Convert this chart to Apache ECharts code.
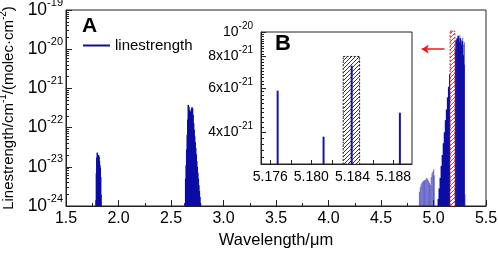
<!DOCTYPE html>
<html>
<head>
<meta charset="utf-8">
<script src="https://cdn.jsdelivr.net/npm/echarts@6/dist/echarts.min.js"></script>
<style>
html, body { margin: 0; padding: 0; background: #fff; }
#chart { width: 498px; height: 255px; }
</style>
</head>
<body>
<div id="chart"></div>
<script>
// line positions (um) and strengths (cm-1/(molec cm-2))
const band18Wl = [1.787, 1.790, 1.794, 1.798, 1.802, 1.806, 1.810, 1.814, 1.818, 1.822, 1.826, 1.830, 1.833];
const band18S = [1.4e-24, 6.9e-24, 1.7e-23, 2.3e-23, 1.8e-23, 1.5e-23, 2.0e-23, 1.8e-23, 1.4e-23, 1.1e-23, 9.3e-24, 5.5e-24, 1.9e-24];

const band27Wl = [2.633, 2.640, 2.645, 2.650, 2.655, 2.660, 2.665, 2.670, 2.675, 2.680, 2.685, 2.690, 2.695, 2.700, 2.705,
  2.710, 2.715, 2.720, 2.725, 2.730, 2.735, 2.740, 2.745, 2.750, 2.755, 2.760, 2.765, 2.770, 2.775, 2.780];
const band27S = [1.2e-24, 5e-24, 1.1e-23, 2.8e-23, 6.5e-23, 1.6e-22, 3.8e-22, 3.4e-22, 2.8e-22, 2.5e-22, 2.3e-22, 2.6e-22, 3.0e-22, 3.3e-22, 3.1e-22,
  2.1e-22, 1.3e-22, 8.8e-23, 6.0e-23, 4.3e-23, 3.0e-23, 2.1e-23, 1.4e-23, 1.0e-23, 7.1e-24, 5.0e-24, 3.4e-24, 2.4e-24, 1.7e-24, 1.2e-24];

const band49Wl = [4.866, 4.874, 4.882, 4.890, 4.898, 4.906, 4.914, 4.922, 4.930, 4.938, 4.946, 4.954, 4.962, 4.970, 4.978, 4.986, 4.994, 5.002, 5.006];
const band49S = [2.3e-24, 3.0e-24, 3.6e-24, 4.0e-24, 4.2e-24, 4.4e-24, 4.5e-24, 4.6e-24, 5.0e-24, 5.2e-24, 4.8e-24, 4.4e-24, 3.9e-24, 3.5e-24, 5.5e-24, 6.8e-24, 7.6e-24, 8.7e-24, 6e-24];

const band52Wl = [5.046, 5.055, 5.065, 5.075, 5.085, 5.095, 5.105, 5.115, 5.125, 5.135, 5.145, 5.155, 5.165, 5.175, 5.185,
  5.195, 5.205, 5.215, 5.225, 5.235, 5.245, 5.255, 5.265, 5.275, 5.283, 5.290];
const band52S = [1.5e-24, 2.8e-24, 5.2e-24, 1.05e-23, 2.0e-23, 4.0e-23, 7.6e-23, 1.55e-22, 2.9e-22, 5.9e-22, 1.1e-21, 2.3e-21, 4.3e-21, 8.8e-21, 1.3e-20,
  1.5e-20, 1.0e-20, 1.7e-20, 1.9e-20, 2.2e-20, 1.5e-20, 1.9e-20, 1.3e-20, 1.6e-20, 7e-21, 4e-21];

const band52LightWl = [5.240, 5.250, 5.258, 5.268, 5.278, 5.288, 5.295, 5.300];
const band52LightS = [2.1e-20, 2.3e-20, 1.9e-20, 1.7e-20, 2.0e-20, 1.3e-20, 1.5e-20, 2e-24];

// inset B
const insetWl = [5.17672, 5.18119, 5.18393, 5.18862];
const insetS = [5.86e-21, 3.85e-21, 7.36e-21, 4.79e-21];

// highlighted windows [from, to, top]
const redBox = [5.158, 5.204, 2.9e-20];
const blackBox = [5.1831, 5.1847, 8.0e-21];
const arrowFrom = [5.105, 1e-20];
const arrowTo = [4.888, 1e-20];

// ticks and labels
const mainYExp = [-24, -23, -22, -21, -20, -19];
const insetXTicks = [5.176, 5.178, 5.180, 5.182, 5.184, 5.186, 5.188];
const insetXLabels = [5.176, 5.180, 5.184, 5.188];
const insetYTicks = [4e-21, 6e-21, 8e-21, 1e-20];
const insetYText = [['4x10', '-21'], ['6x10', '-21'], ['8x10', '-21'], ['10', '-20']];

const FONT = 'Liberation Sans, Arial, sans-serif';
const DARK = '#0c0ca6';
const LIGHT = 'rgba(20,20,170,0.55)';
const lg = Math.log10;

function sticks(wl, s, base) {
    return wl.map(function (w, i) { return [w, lg(s[i]), base]; });
}

function stickItem(width, color) {
    return function (params, api) {
        const top = api.coord([api.value(0), api.value(1)]);
        const bot = api.coord([api.value(0), api.value(2)]);
        return {
            type: 'line',
            shape: { x1: top[0], y1: bot[1], x2: top[0], y2: top[1] },
            style: { stroke: color, lineWidth: width }
        };
    };
}

function hatch(color, bg) {
    const c = document.createElement('canvas');
    c.width = 4; c.height = 4;
    const g = c.getContext('2d');
    g.fillStyle = bg; g.fillRect(0, 0, 4, 4);
    g.strokeStyle = color; g.lineWidth = 0.9;
    g.beginPath();
    g.moveTo(0, 4); g.lineTo(4, 0);
    g.moveTo(-1, 1); g.lineTo(1, -1);
    g.moveTo(3, 5); g.lineTo(5, 3);
    g.stroke();
    return c;
}

function boxItem(color, base) {
    const pat = { image: hatch(color, '#fff'), repeat: 'repeat' };
    return function (params, api) {
        const p0 = api.coord([api.value(0), api.value(2)]);
        const p1 = api.coord([api.value(1), base]);
        return {
            type: 'rect',
            shape: { x: p0[0], y: p0[1], width: p1[0] - p0[0], height: p1[1] - p0[1] },
            style: { fill: pat, stroke: color, lineWidth: 1, lineDash: [2, 1.5] }
        };
    };
}

const mainMinorTicks = [];
for (let n = -24; n < -19; n++) {
    for (let k = 2; k <= 9; k++) mainMinorTicks.push(lg(k) + n);
}
const insetMin = lg(3e-21);
const insetMinorTicks = [];
for (let i = 15; i <= 50; i++) insetMinorTicks.push(lg(i * 0.2e-21));

const chart = echarts.init(document.getElementById('chart'), null, { renderer: 'canvas' });

const supRich = function (big, small, lh) {
    return {
        b: { fontSize: big, lineHeight: lh, fontFamily: FONT, color: '#000' },
        s: { fontSize: small, lineHeight: small, verticalAlign: 'top', fontFamily: FONT, color: '#000' }
    };
};

chart.setOption({
    animation: false,
    backgroundColor: '#fff',
    grid: [
        { left: 66, top: 10, width: 420, height: 196, show: true, borderColor: '#222', borderWidth: 1, outerBoundsMode: 'none' },
        { left: 261, top: 32, width: 151, height: 132, show: true, borderColor: '#222', borderWidth: 1, backgroundColor: '#fff', outerBoundsMode: 'none' }
    ],
    legend: {
        left: 78, top: 33,
        data: [{ name: 'linestrength', icon: 'rect' }],
        itemWidth: 27, itemHeight: 2,
        textStyle: { fontSize: 15, fontFamily: FONT, color: '#000' }
    },
    xAxis: [
        {
            gridIndex: 0, type: 'value', min: 1.5, max: 5.5, interval: 0.5,
            axisLine: { lineStyle: { color: '#222' } },
            axisTick: { inside: true, length: 6, lineStyle: { color: '#222' } },
            minorTick: { show: true, splitNumber: 2, length: 3, lineStyle: { color: '#222' } },
            splitLine: { show: false },
            axisLabel: { fontSize: 16, fontFamily: FONT, color: '#000', margin: 5, formatter: function (v) { return v.toFixed(1); } },
            name: 'Wavelength/μm', nameLocation: 'middle', nameGap: 26,
            nameTextStyle: { fontSize: 16.5, fontFamily: FONT, color: '#000' }
        },
        {
            gridIndex: 1, type: 'value', min: 5.1751, max: 5.1898,
            axisLine: { lineStyle: { color: '#222' } },
            axisTick: { inside: true, length: 4, customValues: insetXTicks, lineStyle: { color: '#222' } },
            splitLine: { show: false },
            axisLabel: { customValues: insetXLabels, fontSize: 14, fontFamily: FONT, color: '#000', margin: 6, formatter: function (v) { return v.toFixed(3); } }
        }
    ],
    yAxis: [
        {
            gridIndex: 0, type: 'value', position: 'left', min: -24, max: -19, interval: 1,
            axisLine: { show: true, lineStyle: { color: '#222' } },
            axisTick: { inside: true, length: 6, lineStyle: { color: '#222' } },
            splitLine: { show: false },
            axisLabel: {
                margin: 3,
                formatter: function (v) { return '{b|10}{s|' + Math.round(v) + '}'; },
                rich: supRich(17.5, 11, 26)
            },
            name: '{b|Linestrength/cm}{s|-1}{b|/(molec·cm}{s|-2}{b|)}',
            nameLocation: 'middle', nameGap: 43,
            nameTextStyle: { rich: supRich(15, 10, 22) }
        },
        {
            gridIndex: 0, type: 'value', position: 'left', min: -24, max: -19,
            axisLine: { show: false },
            axisTick: { inside: true, length: 3, customValues: mainMinorTicks, lineStyle: { color: '#222' } },
            axisLabel: { show: false },
            splitLine: { show: false }
        },
        {
            gridIndex: 1, type: 'value', position: 'left', min: insetMin, max: -20,
            axisLine: { show: true, lineStyle: { color: '#222' } },
            axisTick: { inside: true, length: 5, customValues: insetYTicks.map(lg), lineStyle: { color: '#222' } },
            splitLine: { show: false },
            axisLabel: {
                customValues: insetYTicks.map(lg), margin: 8,
                formatter: function (v) {
                    let best = 0;
                    insetYTicks.forEach(function (t, i) {
                        if (Math.abs(lg(t) - v) < Math.abs(lg(insetYTicks[best]) - v)) best = i;
                    });
                    return '{b|' + insetYText[best][0] + '}{s|' + insetYText[best][1] + '}';
                },
                rich: supRich(14, 10, 22)
            }
        },
        {
            gridIndex: 1, type: 'value', position: 'left', min: insetMin, max: -20,
            axisLine: { show: false },
            axisTick: { inside: true, length: 3, customValues: insetMinorTicks, lineStyle: { color: '#222' } },
            axisLabel: { show: false },
            splitLine: { show: false }
        }
    ],
    series: [
        {
            name: 'linestrength', type: 'custom', xAxisIndex: 0, yAxisIndex: 0,
            itemStyle: { color: DARK },
            renderItem: stickItem(1.6, DARK),
            encode: { x: 0, y: 1 },
            data: sticks(band18Wl, band18S, -24)
                .concat(sticks(band27Wl, band27S, -24))
                .concat(sticks(band52Wl, band52S, -24))
        },
        {
            name: 'linestrength', type: 'custom', xAxisIndex: 0, yAxisIndex: 0,
            itemStyle: { color: DARK },
            renderItem: stickItem(1.1, LIGHT),
            encode: { x: 0, y: 1 },
            data: sticks(band49Wl, band49S, -24).concat(sticks(band52LightWl, band52LightS, -24))
        },
        {
            name: 'window', type: 'custom', xAxisIndex: 0, yAxisIndex: 0, z: 3,
            renderItem: boxItem('#f01818', -24),
            encode: { x: [0, 1], y: 2 },
            data: [[redBox[0], redBox[1], lg(redBox[2])]],
            markLine: {
                silent: true, symbol: ['none', 'arrow'], symbolSize: [7, 7],
                lineStyle: { color: '#f01818', width: 1.5, type: 'solid' },
                label: { show: false },
                data: [[{ coord: [arrowFrom[0], lg(arrowFrom[1])] }, { coord: [arrowTo[0], lg(arrowTo[1])] }]]
            }
        },
        {
            name: 'insetWindow', type: 'custom', xAxisIndex: 1, yAxisIndex: 2,
            renderItem: boxItem('#222', insetMin),
            encode: { x: [0, 1], y: 2 },
            data: [[blackBox[0], blackBox[1], lg(blackBox[2])]]
        },
        {
            name: 'insetLines', type: 'custom', xAxisIndex: 1, yAxisIndex: 2, z: 4,
            renderItem: stickItem(2, '#1414b4'),
            encode: { x: 0, y: 1 },
            data: sticks(insetWl, insetS, insetMin)
        }
    ],
    graphic: [
        { type: 'text', left: 82, top: 16, style: { text: 'A', font: 'bold 21px ' + FONT, fill: '#000' } },
        { type: 'text', left: 275, top: 33, style: { text: 'B', font: 'bold 22px ' + FONT, fill: '#000' } }
    ]
});
</script>
</body>
</html>
